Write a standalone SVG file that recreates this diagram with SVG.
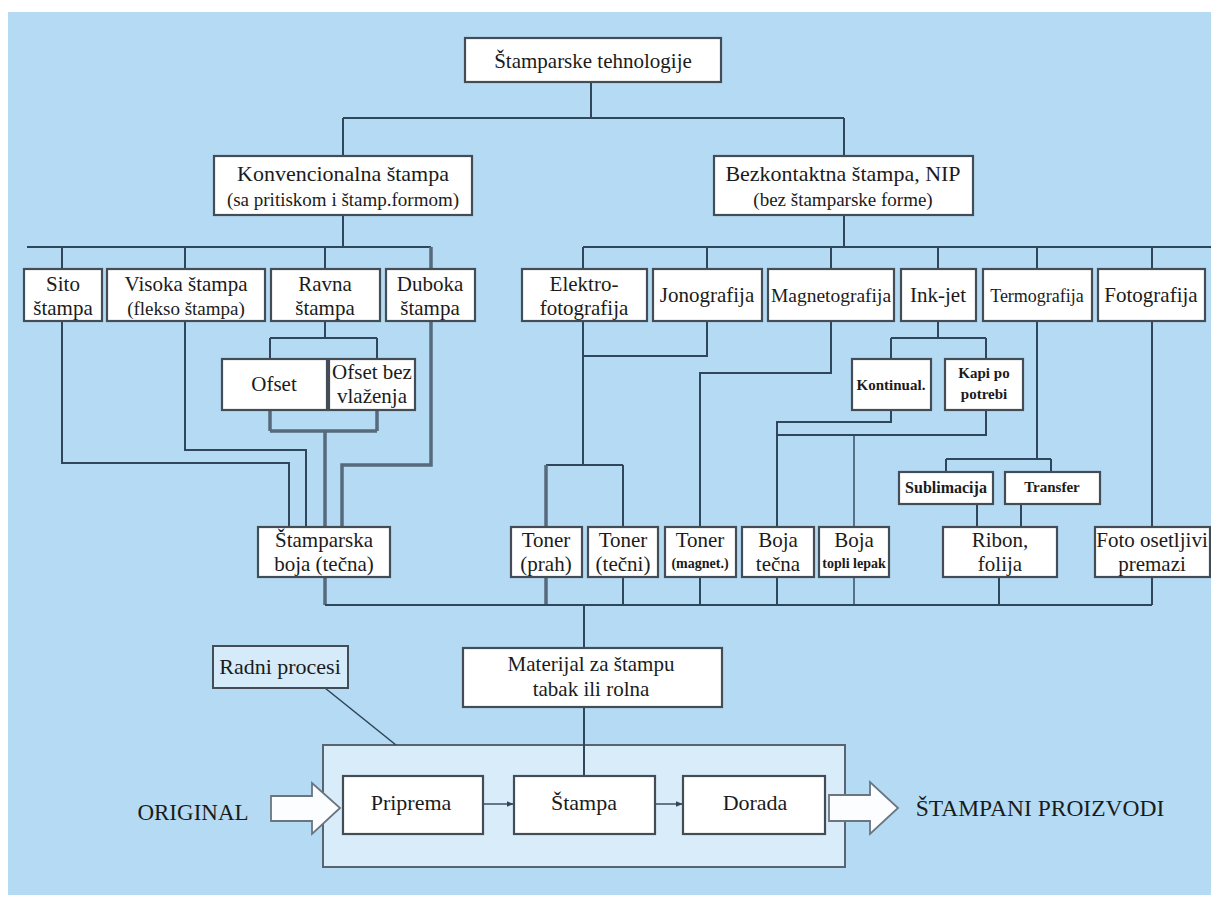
<svg xmlns="http://www.w3.org/2000/svg" width="1211" height="898" viewBox="0 0 1211 898">
<style>
.box{fill:#fff;stroke:#444d56;stroke-width:2.2}
.t{font-family:"Liberation Serif","Times New Roman",serif;fill:#1b1b1b;text-anchor:middle;font-size:21px}
.s{font-size:19px}
.b{font-weight:bold;font-size:15px}
.bs{font-weight:bold;font-size:14px}
.l{fill:none;stroke:#30465a;stroke-width:2}
.k{fill:none;stroke:#566a7b;stroke-width:3.5}
.arr{fill:#fbfdff;stroke:#6a7580;stroke-width:1.8}
</style>
<defs>
<marker id="ah" viewBox="0 0 10 10" refX="9" refY="5" markerWidth="7" markerHeight="7" markerUnits="userSpaceOnUse" orient="auto">
<path d="M0,1 L10,5 L0,9 Z" fill="#30465a"/>
</marker>
</defs>
<rect x="0" y="0" width="1211" height="898" fill="#ffffff"/>
<rect x="8" y="12" width="1203" height="883" fill="#b4dbf3"/>

<g id="n-procesi"><rect x="323" y="745" width="522" height="122" fill="#d9ecfa" stroke="#5a646e" stroke-width="2"/></g>

<g id="connectors">
<path class="l" d="M591,82 V118 M343,118 H844 M343,118 V247 M844,118 V247"/>
<path class="l" d="M27,247 H431 M583,247 H1211"/>
<path class="l" d="M62,247 V269 M185,247 V269 M325,247 V269"/>
<path class="l" d="M583,247 V269 M707,247 V269 M831,247 V269 M938,247 V269 M1037,247 V269 M1152,247 V269"/>
<path class="l" d="M62,321 V463 H289 V527"/>
<path class="l" d="M185,321 V450 H306 V527"/>
<path class="l" d="M325,321 V338 M270,338 H377 M270,338 V359 M377,338 V359"/>
<path class="k" d="M270,410 V431 M377,410 V431 M270,431 H377 M325,431 V527"/>
<path class="k" d="M431,247 V465 H342 V527"/>
<path class="k" d="M325,577 V605"/>
<path class="l" d="M707,321 V356 H583 M583,321 V465 M546,465 H623 M623,465 V527 M623,577 V605"/>
<path class="k" d="M546,465 V605"/>
<path class="l" d="M831,321 V373 H700 V605"/>
<path class="l" d="M938,321 V338 M891,338 H986 M891,338 V359 M986,338 V359"/>
<path class="l" d="M891,410 V422 H777 V605 M986,410 V435 H777"/>
<path class="l" d="M854,435 V605" style="stroke-width:1.4"/>
<path class="l" d="M1037,321 V459 M946,459 H1051 M946,459 V472 M1051,459 V472"/>
<path class="l" d="M977,504 V527 M1021,504 V527 M999,577 V605"/>
<path class="l" d="M1152,321 V605"/>
<path class="l" d="M325,605 H1152 M584,605 V648 M584,707 V776"/>
<path class="l" d="M325,688 L396,745" style="stroke-width:1.6"/>
<path class="l" d="M483,804 H513" marker-end="url(#ah)" style="stroke-width:1.4"/>
<path class="l" d="M655,804 H682" marker-end="url(#ah)" style="stroke-width:1.4"/>
</g>

<g id="n-top"><rect class="box" x="465" y="38" width="256" height="44"/><text class="t" x="593" y="68">Štamparske tehnologije</text></g>
<g id="n-konv"><rect class="box" x="214" y="156" width="258" height="59"/><text class="t" x="343" y="181" style="font-size:22px">Konvencionalna štampa</text><text class="t s" x="343" y="206">(sa pritiskom i štamp.formom)</text></g>
<g id="n-nip"><rect class="box" x="714" y="156" width="259" height="59"/><text class="t" x="843" y="181" style="font-size:22px">Bezkontaktna štampa, NIP</text><text class="t s" x="843" y="206">(bez štamparske forme)</text></g>

<g id="n-sito"><rect class="box" x="24" y="269" width="78" height="52"/><text class="t" x="63" y="291">Sito</text><text class="t" x="63" y="315">štampa</text></g>
<g id="n-visoka"><rect class="box" x="107" y="269" width="158" height="52"/><text class="t" x="186" y="291">Visoka štampa</text><text class="t s" x="186" y="315">(flekso štampa)</text></g>
<g id="n-ravna"><rect class="box" x="271" y="269" width="109" height="52"/><text class="t" x="325" y="291">Ravna</text><text class="t" x="325" y="315">štampa</text></g>
<g id="n-duboka"><rect class="box" x="386" y="269" width="89" height="52"/><text class="t" x="430" y="291">Duboka</text><text class="t" x="430" y="315">štampa</text></g>
<g id="n-ofset"><rect class="box" x="222" y="359" width="105" height="51"/><text class="t" x="274" y="391">Ofset</text></g>
<g id="n-ofsetbez"><rect class="box" x="329" y="359" width="86" height="51"/><text class="t" x="372" y="379">Ofset bez</text><text class="t" x="372" y="403">vlaženja</text></g>

<g id="n-elektro"><rect class="box" x="522" y="269" width="125" height="52"/><text class="t" x="584" y="291">Elektro-</text><text class="t" x="584" y="315">fotografija</text></g>
<g id="n-jono"><rect class="box" x="653" y="269" width="109" height="52"/><text class="t" x="707" y="302">Jonografija</text></g>
<g id="n-magneto"><rect class="box" x="768" y="269" width="126" height="52"/><text class="t" x="831" y="302" style="font-size:19.5px">Magnetografija</text></g>
<g id="n-inkjet"><rect class="box" x="901" y="269" width="75" height="52"/><text class="t" x="938" y="302">Ink-jet</text></g>
<g id="n-termo"><rect class="box" x="983" y="269" width="109" height="52"/><text class="t" x="1037" y="302" style="font-size:18px">Termografija</text></g>
<g id="n-foto"><rect class="box" x="1098" y="269" width="107" height="52"/><text class="t" x="1151" y="302">Fotografija</text></g>

<g id="n-kontinual"><rect class="box" x="852" y="359" width="79" height="51"/><text class="t b" x="891" y="390">Kontinual.</text></g>
<g id="n-kapi"><rect class="box" x="945" y="359" width="78" height="51"/><text class="t b" x="984" y="378">Kapi po</text><text class="t b" x="984" y="399">potrebi</text></g>
<g id="n-subl"><rect class="box" x="899" y="472" width="94" height="32"/><text class="t" x="946" y="493" style="font-weight:bold;font-size:16px">Sublimacija</text></g>
<g id="n-transfer"><rect class="box" x="1005" y="472" width="95" height="32"/><text class="t b" x="1052" y="492">Transfer</text></g>

<g id="n-stamparska"><rect class="box" x="258" y="527" width="132" height="50"/><text class="t" x="324" y="547">Štamparska</text><text class="t" x="324" y="571">boja (tečna)</text></g>
<g id="n-tonerp"><rect class="box" x="511" y="527" width="71" height="50"/><text class="t" x="546" y="547">Toner</text><text class="t" x="546" y="571">(prah)</text></g>
<g id="n-tonert"><rect class="box" x="588" y="527" width="70" height="50"/><text class="t" x="623" y="547">Toner</text><text class="t" x="623" y="571">(tečni)</text></g>
<g id="n-tonerm"><rect class="box" x="665" y="527" width="71" height="50"/><text class="t" x="700" y="547">Toner</text><text class="t bs" x="700" y="568">(magnet.)</text></g>
<g id="n-bojat"><rect class="box" x="742" y="527" width="72" height="50"/><text class="t" x="778" y="547">Boja</text><text class="t" x="778" y="571">tečna</text></g>
<g id="n-bojal"><rect class="box" x="819" y="527" width="70" height="50"/><text class="t" x="854" y="547">Boja</text><text class="t bs" x="854" y="568">topli lepak</text></g>
<g id="n-ribon"><rect class="box" x="943" y="527" width="114" height="50"/><text class="t" x="1000" y="547">Ribon,</text><text class="t" x="1000" y="571">folija</text></g>
<g id="n-fotop"><rect class="box" x="1095" y="527" width="115" height="50"/><text class="t" x="1152" y="547">Foto osetljivi</text><text class="t" x="1152" y="571">premazi</text></g>

<g id="n-materijal"><rect class="box" x="463" y="648" width="259" height="59"/><text class="t" x="591" y="671">Materijal za štampu</text><text class="t" x="591" y="696">tabak ili rolna</text></g>
<g id="n-radni"><rect x="213" y="646" width="135" height="42" fill="#d6ebf9" stroke="#444d56" stroke-width="2"/><text class="t" x="280" y="674" style="font-size:22px">Radni procesi</text></g>

<g id="n-priprema"><rect class="box" x="343" y="776" width="140" height="58"/><text class="t" x="411" y="810" style="font-size:22px">Priprema</text></g>
<g id="n-stampa"><rect class="box" x="514" y="776" width="141" height="58"/><text class="t" x="584" y="810" style="font-size:22px">Štampa</text></g>
<g id="n-dorada"><rect class="box" x="683" y="776" width="142" height="58"/><text class="t" x="755" y="810" style="font-size:22px">Dorada</text></g>

<g id="n-original"><polygon class="arr" points="271,796 312,796 312,783 340,808 312,834 312,821 271,821"/><text class="t" x="193" y="820" style="font-size:23px">ORIGINAL</text></g>
<g id="n-proizvodi"><polygon class="arr" points="829,795 870,795 870,782 898,808 870,834 870,821 829,821"/><text class="t" x="1040" y="816" style="font-size:23.5px">ŠTAMPANI PROIZVODI</text></g>
</svg>
